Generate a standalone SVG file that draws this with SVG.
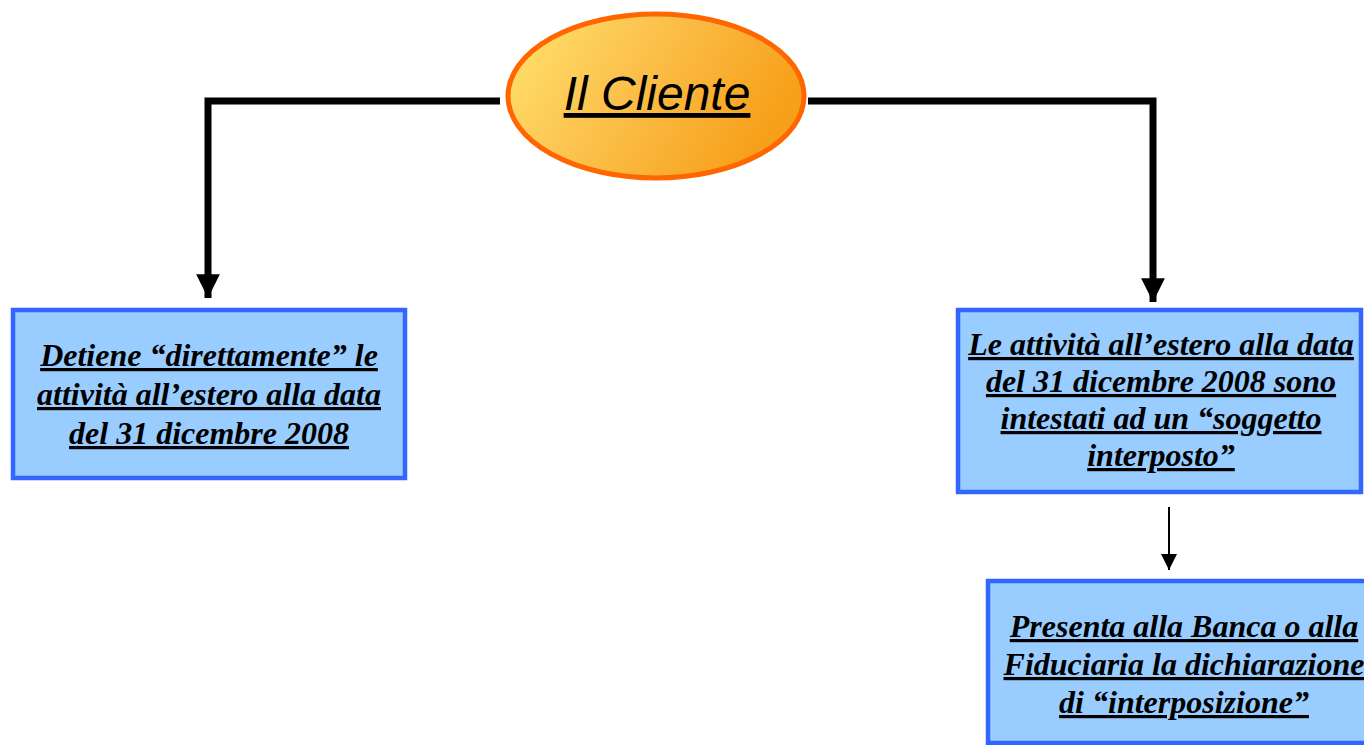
<svg xmlns="http://www.w3.org/2000/svg" width="1364" height="745" viewBox="0 0 1364 745">
<defs>
<linearGradient id="og" x1="0" y1="0" x2="1" y2="0.35">
<stop offset="0" stop-color="#FFE470"/>
<stop offset="0.5" stop-color="#FBC04A"/>
<stop offset="1" stop-color="#F7A01A"/>
</linearGradient>
<marker id="ah" viewBox="0 0 10 10" refX="10" refY="5" markerWidth="3.4" markerHeight="3.6" markerUnits="strokeWidth" orient="auto">
<path d="M0,0 L10,5 L0,10 Z" fill="#000"/>
</marker>
<marker id="ahs" viewBox="0 0 10 10" refX="10" refY="5" markerWidth="8" markerHeight="8" markerUnits="strokeWidth" orient="auto">
<path d="M0,0 L10,5 L0,10 Z" fill="#000"/>
</marker>
</defs>
<style>
.box{fill:#99CCFF;stroke:#3366FF;stroke-width:4.5}
.bt{font-family:"Liberation Serif","Times New Roman",serif;font-weight:bold;font-style:italic;font-size:32px;text-decoration:underline;text-anchor:middle;fill:#000}
.conn{fill:none;stroke:#000}
</style>
<g id="connectors">
<path class="conn" d="M500,101 H208 V298" stroke-width="7" marker-end="url(#ah)"/>
<path class="conn" d="M808,101 H1153 V302" stroke-width="7" marker-end="url(#ah)"/>
<path class="conn" d="M1169,507 V570" stroke-width="2" marker-end="url(#ahs)"/>
</g>
<g id="cliente">
<ellipse cx="656" cy="96" rx="148" ry="82" fill="url(#og)" stroke="#FF6600" stroke-width="5"/>
<text x="657" y="110" font-family="'Liberation Sans',Arial,sans-serif" font-style="italic" font-size="48" text-anchor="middle" text-decoration="underline">Il Cliente</text>
</g>
<g id="detiene">
<rect class="box" x="13" y="310" width="392" height="168"/>
<text class="bt" x="209" y="366">Detiene “direttamente” le</text>
<text class="bt" x="209" y="405">attività all’estero alla data</text>
<text class="bt" x="209" y="444">del 31 dicembre 2008</text>
</g>
<g id="interposto">
<rect class="box" x="958" y="310" width="403" height="182"/>
<text class="bt" x="1161" y="355">Le attività all’estero alla data</text>
<text class="bt" x="1161" y="392">del 31 dicembre 2008 sono</text>
<text class="bt" x="1161" y="429">intestati ad un “soggetto</text>
<text class="bt" x="1161" y="466">interposto”</text>
</g>
<g id="presenta">
<rect class="box" x="988" y="581" width="394" height="162"/>
<text class="bt" x="1184" y="637">Presenta alla Banca o alla</text>
<text class="bt" x="1184" y="675">Fiduciaria la dichiarazione</text>
<text class="bt" x="1184" y="713">di “interposizione”</text>
</g>
</svg>
